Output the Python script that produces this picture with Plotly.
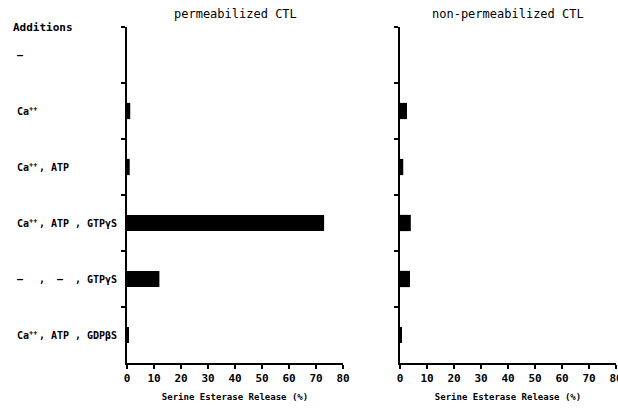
import plotly.graph_objects as go

# ---- data ----
row_ids = ["none", "Ca", "Ca_ATP", "Ca_ATP_GTPgS", "GTPgS", "Ca_ATP_GDPbS"]
label_col1 = ["–", "Ca<sup>++</sup>", "Ca<sup>++</sup>", "Ca<sup>++</sup>", "–", "Ca<sup>++</sup>"]
label_col2 = ["", "", ", ATP", ", ATP", ",  –", ", ATP"]
label_col3 = ["", "", "", ", GTPγS", ", GTPγS", ", GDPβS"]
permeabilized = [0, 1.2, 1.0, 73.0, 12.0, 0.5]
non_permeabilized = [0, 2.6, 1.2, 4.0, 3.7, 0.4]
x_ticks = [0, 10, 20, 30, 40, 50, 60, 70, 80]
panel_titles = ["permeabilized CTL", "non-permeabilized CTL"]
x_title = "Serine Esterase Release (%)"

FONT = "DejaVu Sans Mono"
W, H = 618, 411

fig = go.Figure()
fig.add_trace(go.Bar(x=permeabilized, y=row_ids, orientation="h", width=0.29,
                     marker=dict(color="black", line=dict(width=0)),
                     xaxis="x", yaxis="y", showlegend=False))
fig.add_trace(go.Bar(x=non_permeabilized, y=row_ids, orientation="h", width=0.29,
                     marker=dict(color="black", line=dict(width=0)),
                     xaxis="x2", yaxis="y2", showlegend=False))

y_top = 1 - 27 / H
y_bot = 1 - 363 / H
dom1 = [127 / W, 343 / W]
dom2 = [400 / W, 616 / W]

xaxis_common = dict(range=[0, 80], tickvals=x_ticks, ticktext=[f"<b>{v}</b>" for v in x_ticks],
                    showline=True, linecolor="black",
                    linewidth=1.5, ticks="outside", ticklen=4, tickwidth=1.5, tickcolor="black",
                    showgrid=False, zeroline=False, fixedrange=True, automargin=False,
                    ticklabeloverflow="allow",
                    tickfont=dict(family=FONT, size=11, color="black"),
                    title=dict(text="<b>" + x_title + "</b>",
                               font=dict(family=FONT, size=9, color="black"),
                               standoff=10))
yaxis_common = dict(type="category", categoryorder="array", categoryarray=row_ids,
                    autorange="reversed", tickson="boundaries", showticklabels=False,
                    showline=True, linecolor="black", linewidth=1.5, automargin=False,
                    ticks="outside", ticklen=4, tickwidth=1.5, tickcolor="black",
                    showgrid=False, zeroline=False, domain=[y_bot, y_top], fixedrange=True)

fig.update_layout(
    width=W, height=H,
    margin=dict(l=0, r=0, t=0, b=0, autoexpand=False),
    paper_bgcolor="white", plot_bgcolor="white",
    bargap=0.7,
    xaxis=dict(domain=dom1, anchor="y", **xaxis_common),
    xaxis2=dict(domain=dom2, anchor="y2", **xaxis_common),
    yaxis=dict(anchor="x", **yaxis_common),
    yaxis2=dict(anchor="x2", **yaxis_common),
)

ann = []
for title, dom in zip(panel_titles, [dom1, dom2]):
    ann.append(dict(text=title, x=(dom[0] + dom[1]) / 2, y=1 - 14 / H, xref="paper", yref="paper",
                    showarrow=False, xanchor="center", yanchor="middle",
                    font=dict(family=FONT, size=12, color="black")))
ann.append(dict(text="<b>Additions</b>", x=11 / W, y=1 - 27 / H, xref="paper", yref="paper",
                showarrow=False, xanchor="left", yanchor="middle",
                font=dict(family=FONT, size=11, color="black")))
for cols, xpos in [(label_col1, 15), (label_col2, 37), (label_col3, 73)]:
    for rid, txt in zip(row_ids, cols):
        if txt:
            ann.append(dict(text="<b>" + txt + "</b>", x=xpos / W, y=rid, xref="paper", yref="y",
                            showarrow=False, xanchor="left", yanchor="middle",
                            font=dict(family=FONT, size=10, color="black")))
fig.update_layout(annotations=ann)

fig.write_html("out.html", config={"displayModeBar": False},
               post_script="document.body.style.margin='0';document.body.style.overflow='hidden';")
